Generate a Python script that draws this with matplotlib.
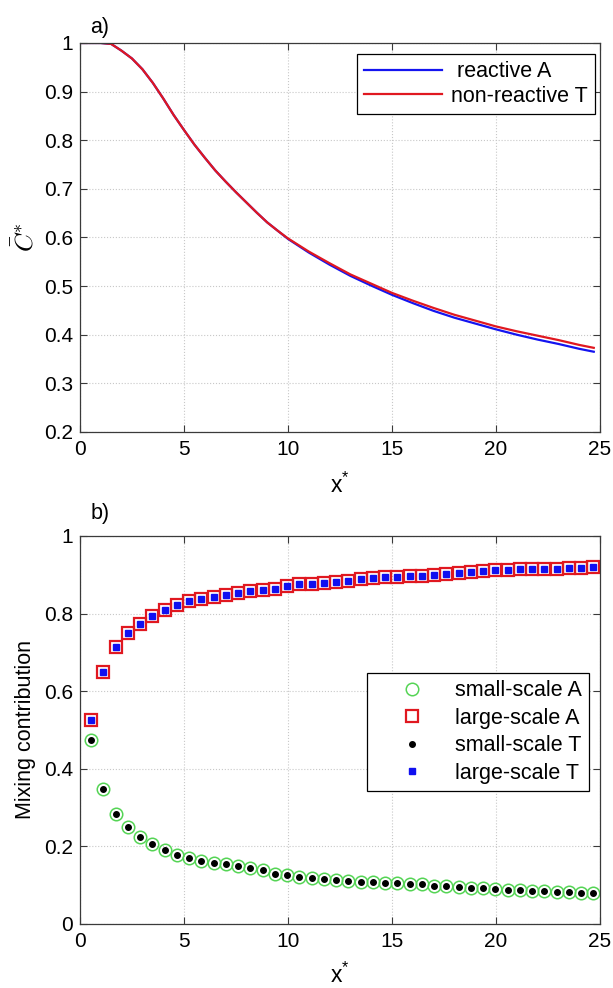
import numpy as np
import matplotlib
matplotlib.use('Agg')
import matplotlib.pyplot as plt

plt.rcParams['font.family'] = ['Liberation Sans', 'DejaVu Sans']
plt.rcParams['mathtext.fontset'] = 'cm'

# panel a) mean concentration along x*
x_a = [0, 0.5, 1.0, 1.5, 2.0, 2.5, 3.0, 3.5, 4.0, 4.5, 5.0, 5.5, 6.0, 6.5, 7.0, 7.5,
       8.0, 8.5, 9.0, 9.5, 10, 11, 12, 13, 14, 15, 16, 17, 18, 19, 20, 21, 22,
       23, 24, 24.7]
c_reactive = [1.0, 1.0, 1.0, 0.998, 0.984, 0.968, 0.946, 0.918, 0.886, 0.852, 0.821,
              0.791, 0.764, 0.738, 0.715, 0.693, 0.672, 0.651, 0.631, 0.614, 0.597,
              0.569, 0.544, 0.521, 0.501, 0.482, 0.465, 0.449, 0.435, 0.423, 0.411,
              0.400, 0.390, 0.381, 0.371, 0.365]
c_nonreactive = [1.0, 1.0, 1.0, 0.998, 0.984, 0.968, 0.946, 0.918, 0.886, 0.852, 0.821,
                 0.791, 0.764, 0.738, 0.715, 0.693, 0.672, 0.651, 0.631, 0.614, 0.598,
                 0.571, 0.547, 0.524, 0.505, 0.486, 0.470, 0.455, 0.441, 0.429, 0.417,
                 0.407, 0.398, 0.389, 0.379, 0.373]

# panel b) mixing contributions
x_b = np.linspace(0.53, 24.68, 42)
small_A = [0.473, 0.348, 0.284, 0.249, 0.225, 0.206, 0.190, 0.178, 0.169, 0.163,
           0.158, 0.154, 0.149, 0.144, 0.139, 0.130, 0.125, 0.122, 0.119, 0.115,
           0.113, 0.110, 0.108, 0.107, 0.105, 0.105, 0.104, 0.102, 0.099, 0.098,
           0.096, 0.094, 0.093, 0.091, 0.088, 0.087, 0.085, 0.084, 0.083, 0.082,
           0.081, 0.081]
large_A = [0.527, 0.650, 0.714, 0.750, 0.774, 0.794, 0.810, 0.822, 0.832, 0.837,
           0.843, 0.847, 0.852, 0.857, 0.860, 0.864, 0.870, 0.875, 0.877, 0.880,
           0.882, 0.885, 0.889, 0.892, 0.894, 0.895, 0.896, 0.898, 0.900, 0.901,
           0.904, 0.906, 0.909, 0.912, 0.913, 0.914, 0.915, 0.915, 0.916, 0.917,
           0.918, 0.919]
small_T = small_A
large_T = large_A

fs = 15
lfs = 15.5
frame = '#3a3a3a'


def style(ax):
    ax.grid(True, color='#c8c8c8', ls=':', lw=0.8)
    ax.set_axisbelow(True)
    ax.tick_params(direction='in', top=True, right=True, labelsize=fs,
                   length=5, width=0.8, color=frame, pad=5)
    ax.tick_params(axis='x', pad=6)
    for s in ax.spines.values():
        s.set_color(frame)
        s.set_linewidth(0.9)


fig = plt.figure(figsize=(6.13, 9.88), dpi=100)

ax1 = fig.add_axes([0.1305, 0.5628, 0.8483, 0.3937])
ax1.plot(x_a, c_reactive, color='#1414f0', lw=1.6, label=' reactive A')
ax1.plot(x_a, c_nonreactive, color='#e01820', lw=1.6, label='non-reactive T')
ax1.set_xlim(0, 25)
ax1.set_ylim(0.2, 1)
ax1.set_xticks([0, 5, 10, 15, 20, 25])
ax1.set_yticks(np.arange(0.2, 1.01, 0.1))
ax1.set_yticklabels(['0.2', '0.3', '0.4', '0.5', '0.6', '0.7', '0.8', '0.9', '1'])
style(ax1)
ax1.set_xlabel(r'$\mathregular{x^{*}}$', fontsize=lfs + 1, labelpad=10)
ax1.set_ylabel(r'$\bar{C}^{*}$', fontsize=lfs + 3, labelpad=4)
ax1.text(0.02, 1.012, 'a)', transform=ax1.transAxes, fontsize=lfs, va='bottom')
leg1 = ax1.legend(loc='upper right', bbox_to_anchor=(0.99, 0.972), borderaxespad=0,
                  fontsize=lfs, fancybox=False, edgecolor='black', framealpha=1,
                  handlelength=3.6, handletextpad=0.4, labelspacing=0.15,
                  borderpad=0.35)
leg1.get_frame().set_linewidth(0.9)

ax2 = fig.add_axes([0.1305, 0.0648, 0.8483, 0.3927])
ax2.plot(x_b, small_A, 'o', mfc='none', mec='#55d455', ms=9, mew=1.1,
         ls='none', label='small-scale A')
ax2.plot(x_b, large_A, 's', mfc='none', mec='#e01820', ms=8.5, mew=1.6,
         ls='none', label='large-scale A')
ax2.plot(x_b, small_T, 'o', color='black', ms=4, ls='none', label='small-scale T')
ax2.plot(x_b, large_T, 's', color='#1010f0', ms=4.5, ls='none', label='large-scale T')
ax2.set_xlim(0, 25)
ax2.set_ylim(0, 1)
ax2.set_xticks([0, 5, 10, 15, 20, 25])
ax2.set_yticks([0, 0.2, 0.4, 0.6, 0.8, 1])
ax2.set_yticklabels(['0', '0.2', '0.4', '0.6', '0.8', '1'])
style(ax2)
ax2.set_xlabel(r'$\mathregular{x^{*}}$', fontsize=lfs + 1, labelpad=8)
ax2.set_ylabel('Mixing contribution', fontsize=lfs, labelpad=6)
ax2.text(0.02, 1.03, 'b)', transform=ax2.transAxes, fontsize=lfs, va='bottom')
leg2 = ax2.legend(loc='upper right', bbox_to_anchor=(0.979, 0.647), borderaxespad=0,
                  fontsize=lfs, fancybox=False, edgecolor='black', framealpha=1,
                  handlelength=3.4, handletextpad=0.3, labelspacing=0.3,
                  borderpad=0.35)
leg2.get_frame().set_linewidth(0.9)

fig.savefig('out.png', dpi=100)
